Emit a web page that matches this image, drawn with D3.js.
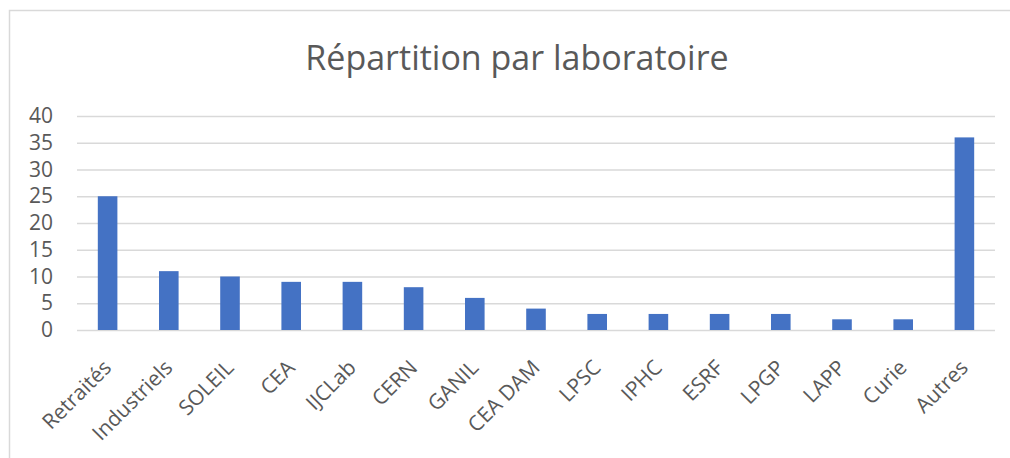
<!DOCTYPE html>
<html><head><meta charset="utf-8">
<script src="https://cdn.jsdelivr.net/npm/d3@7"></script>
<style>body{margin:0;background:#fff;} svg{display:block;}</style>
</head><body>
<svg id="c" width="1010" height="458"></svg>
<script>
const categories = ["Retraités","Industriels","SOLEIL","CEA","IJCLab","CERN","GANIL","CEA DAM","LPSC","IPHC","ESRF","LPGP","LAPP","Curie","Autres"];
const values = [25,11,10,9,9,8,6,4,3,3,3,3,2,2,36];
const yTicks = [0,5,10,15,20,25,30,35,40];
const title = "Répartition par laboratoire";

const svg = d3.select("#c");
const font = "'Open Sans', 'Noto Sans', sans-serif";
const txt = "#595959";
svg.append("rect").attr("x",9.5).attr("y",10.5).attr("width",1010).attr("height",460)
  .attr("fill","#fff").attr("stroke","#d9d9d9").attr("stroke-width",1.5);

const L=77, R=995, T=116, B=330;
const x = d3.scaleBand().domain(categories).range([L,R]).paddingInner(0.68).paddingOuter(0.34);
const y = d3.scaleLinear().domain([0,40]).range([B,T]);

svg.append("text").attr("x",517).attr("y",70).attr("text-anchor","middle")
  .attr("font-family",font).attr("font-size",34).attr("fill",txt).text(title);

const ya = svg.append("g").attr("transform",`translate(${L},0)`)
  .call(d3.axisLeft(y).tickValues(yTicks).tickSize(-(R-L)).tickPadding(24));
ya.select(".domain").remove();
ya.selectAll(".tick line").attr("stroke","#d9d9d9").attr("stroke-width",1.5);
ya.selectAll(".tick text").attr("font-family",font).attr("font-size",21).attr("fill",txt);

svg.selectAll("rect.bar").data(values).join("rect").attr("class","bar")
  .attr("x",(d,i)=>x(categories[i])).attr("width",x.bandwidth())
  .attr("y",d=>y(d)).attr("height",d=>y(0)-y(d)).attr("fill","#4472C4");

const xa = svg.append("g").attr("transform",`translate(0,${B})`)
  .call(d3.axisBottom(x).tickSize(0).tickPadding(0));
xa.select(".domain").remove();
xa.selectAll(".tick text").attr("font-family",font).attr("font-size",21).attr("fill",txt)
  .attr("text-anchor","end").attr("dy",0)
  .attr("transform","translate(5,39) rotate(-45)");
</script>
</body></html>
